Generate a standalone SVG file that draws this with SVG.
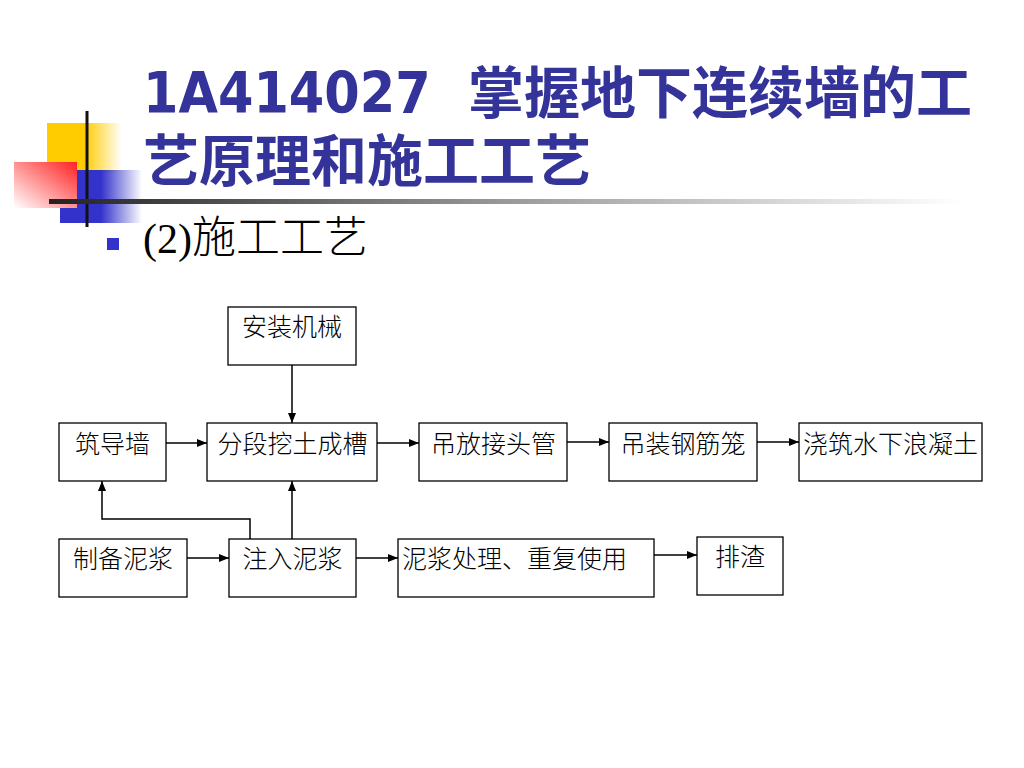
<svg xmlns="http://www.w3.org/2000/svg" width="1024" height="768" viewBox="0 0 1024 768">
<defs>
<style>
.box{fill:#fff;stroke:#000;stroke-width:1.3}
.lbl{font-family:"Liberation Serif","Noto Sans CJK SC",serif;font-size:25px;fill:#000;font-weight:300}
.c{text-anchor:middle}
.con{fill:none;stroke:#000;stroke-width:1.5}
.title{font-weight:bold;fill:#333399}
</style>
<marker id="ah" markerUnits="userSpaceOnUse" markerWidth="11" markerHeight="9" refX="10" refY="4.5" orient="auto">
<path d="M0,0.5 L10,4.5 L0,8.5 z" fill="#000"/>
</marker>
<linearGradient id="gy" x1="0" y1="0" x2="1" y2="0">
<stop offset="0" stop-color="#FFCC00"/>
<stop offset="0.5" stop-color="#FFCC00"/>
<stop offset="1" stop-color="#FFCC00" stop-opacity="0"/>
</linearGradient>
<linearGradient id="gb" x1="0" y1="0" x2="1" y2="0">
<stop offset="0" stop-color="#3333CC"/>
<stop offset="0.5" stop-color="#3333CC"/>
<stop offset="1" stop-color="#3333CC" stop-opacity="0"/>
</linearGradient>
<linearGradient id="gr" x1="1" y1="0" x2="0" y2="1">
<stop offset="0" stop-color="#FF2222"/>
<stop offset="1" stop-color="#FFFFFF"/>
</linearGradient>
<linearGradient id="gl" x1="0" y1="0" x2="1" y2="0">
<stop offset="0" stop-color="#222"/>
<stop offset="0.5" stop-color="#999"/>
<stop offset="1" stop-color="#fff"/>
</linearGradient>
</defs>
<rect width="1024" height="768" fill="#fff"/>
<g id="decoration">
<rect x="47" y="123" width="75" height="50" fill="url(#gy)"/>
<rect x="60" y="170" width="82" height="53" fill="url(#gb)"/>
<rect x="14" y="162" width="63" height="46" fill="url(#gr)"/>
<rect x="85.5" y="111" width="3" height="116" fill="#111"/>
<rect x="49" y="199" width="912" height="5" fill="url(#gl)"/>
</g>
<g id="title">
<text class="title" transform="translate(143,113) scale(1,1.12)" font-family="DejaVu Sans" font-size="51">1A414027</text>
<text class="title" x="468" y="113" font-family="Noto Sans CJK SC" font-size="56">掌握地下连续墙的工</text>
<text class="title" x="143" y="181" font-family="Noto Sans CJK SC" font-size="56">艺原理和施工工艺</text>
</g>
<g id="subtitle">
<rect x="107" y="238" width="12" height="12" fill="#3333CC"/>
<text y="253" fill="#000"><tspan x="143" font-family="Liberation Serif" font-size="42">(2)</tspan><tspan font-family="Noto Sans CJK SC" font-size="44" font-weight="300">施工工艺</tspan></text>
</g>
<g id="connectors">
<path class="con" d="M292,365 V423" marker-end="url(#ah)"/>
<path class="con" d="M166,443 H207" marker-end="url(#ah)"/>
<path class="con" d="M377,443 H419" marker-end="url(#ah)"/>
<path class="con" d="M567,442 H609" marker-end="url(#ah)"/>
<path class="con" d="M757,442 H799" marker-end="url(#ah)"/>
<path class="con" d="M187,558 H229" marker-end="url(#ah)"/>
<path class="con" d="M292,539 V481" marker-end="url(#ah)"/>
<path class="con" d="M250,539 V519 H102 V481" marker-end="url(#ah)"/>
<path class="con" d="M356,558 H398" marker-end="url(#ah)"/>
<path class="con" d="M654,555 H697" marker-end="url(#ah)"/>
</g>
<g id="n-anzhuang"><rect class="box" x="228" y="307" width="128" height="58"/><text class="lbl c" x="292" y="336">安装机械</text></g>
<g id="n-zhudaoqiang"><rect class="box" x="59" y="423" width="107" height="58"/><text class="lbl c" x="112.5" y="453">筑导墙</text></g>
<g id="n-fenduan"><rect class="box" x="207" y="423" width="170" height="58"/><text class="lbl c" x="292.5" y="453">分段挖土成槽</text></g>
<g id="n-diaofang"><rect class="box" x="419" y="423" width="148" height="58"/><text class="lbl c" x="493.5" y="453">吊放接头管</text></g>
<g id="n-diaozhuang"><rect class="box" x="609" y="423" width="148" height="58"/><text class="lbl c" x="683" y="453">吊装钢筋笼</text></g>
<g id="n-jiaozhu"><rect class="box" x="799" y="423" width="183" height="58"/><text class="lbl c" x="890.5" y="453">浇筑水下浪凝土</text></g>
<g id="n-zhibei"><rect class="box" x="59" y="539" width="128" height="58"/><text class="lbl c" x="123" y="568">制备泥浆</text></g>
<g id="n-zhuru"><rect class="box" x="229" y="539" width="127" height="58"/><text class="lbl c" x="292.5" y="568">注入泥浆</text></g>
<g id="n-chuli"><rect class="box" x="398" y="539" width="256" height="58"/><text class="lbl" x="402" y="568">泥浆处理、重复使用</text></g>
<g id="n-paizha"><rect class="box" x="697" y="537" width="86" height="58"/><text class="lbl c" x="740" y="566">排渣</text></g>
</svg>
